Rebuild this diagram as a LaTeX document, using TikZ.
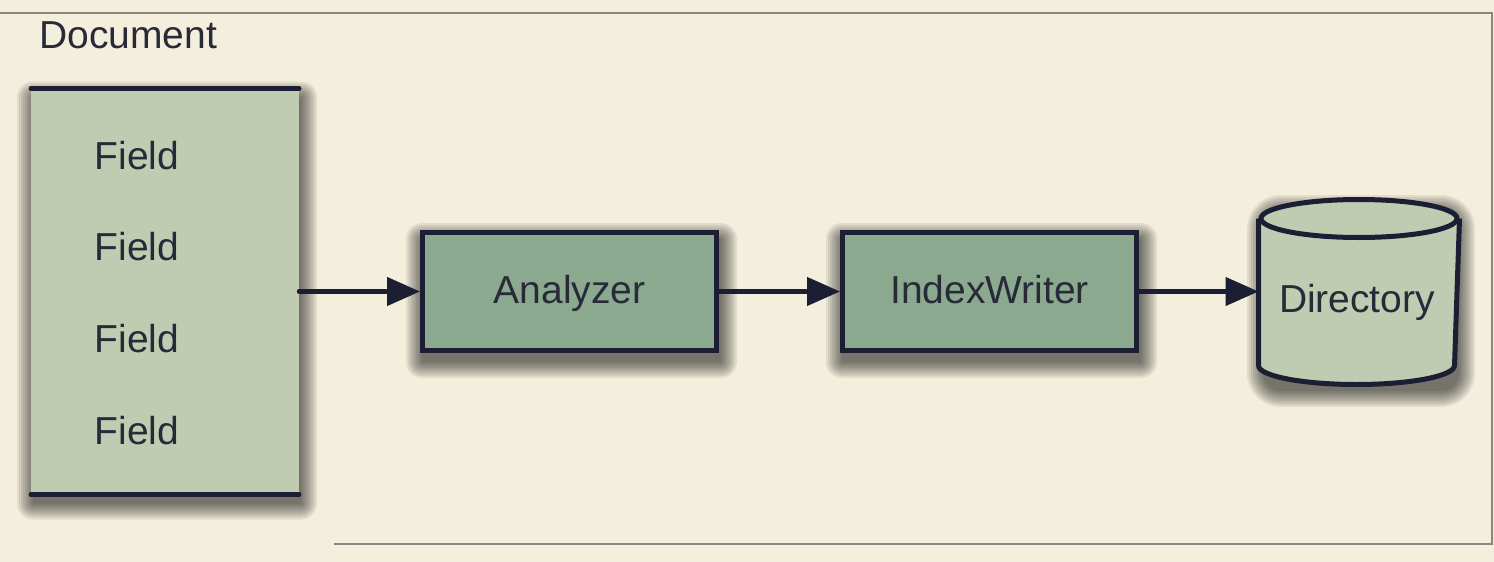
\documentclass[tikz,border=0pt]{standalone}
\usepackage{fontspec}
\setmainfont{Liberation Sans}
\usetikzlibrary{arrows.meta}
\definecolor{bg}{RGB}{244,238,220}
\definecolor{docfill}{RGB}{192,204,178}
\definecolor{boxfill}{RGB}{139,169,142}
\definecolor{ink}{RGB}{28,31,51}
\definecolor{txt}{RGB}{40,42,55}
\definecolor{framegray}{RGB}{135,135,128}
\pgfdeclarelayer{bottomlayer}
\pgfdeclarelayer{shadowlayer}
\pgfsetlayers{bottomlayer,shadowlayer,main}
% soft shadow: #1 = south west name, #2 = north east name, #3 = extra corner rounding
\newcommand\mysoftshadow[3]{%
  \foreach \e in {0,2,...,16}{%
    \fill[black, opacity=0.075, rounded corners=\e pt+#3]
      ([shift={(2pt-\e pt,-9pt-\e pt)}]#1) rectangle ([shift={(2pt+\e pt,-9pt+\e pt)}]#2);
  }}
\begin{document}
\begin{tikzpicture}[x=1pt,y=-1pt,
  lbl/.style={text=txt, font=\fontsize{39}{46}\selectfont, inner sep=0pt},
  procbox/.style={draw=ink, line width=5pt, fill=boxfill, minimum width=294pt, minimum height=118pt,
    inner sep=0pt, text height=28pt, text depth=4pt, text=txt, font=\fontsize{39}{46}\selectfont},
  flow/.style={draw=ink, line width=4.5pt, line cap=round, -{Triangle[length=33pt,width=28pt]}},
  rule/.style={draw=ink, line width=5pt, line cap=round},
  frame/.style={draw=framegray, line width=1.5pt}]
\useasboundingbox (0,0) rectangle (1494,562);
\begin{pgfonlayer}{bottomlayer}
\fill[bg] (0,0) rectangle (1494,562);
\coordinate (f1) at (0,13);
\coordinate (f2) at (1492,13);
\coordinate (f3) at (1492,544);
\coordinate (f4) at (334,544);
\draw[frame] (f1) -- (f2) -- (f3) -- (f4);
\end{pgfonlayer}
% document
\node[lbl, anchor=base west] (doclabel) at (39,48) {Document};
\node[fill=docfill, minimum width=268pt, minimum height=406pt, inner sep=0pt, outer sep=0pt] (doc) at (165,291.5) {};
\draw[rule] (doc.north west) -- (doc.north east);
\draw[rule] (doc.south west) -- (doc.south east);
\node[lbl, anchor=base] (f1t) at (137,169.5) {Field};
\node[lbl, anchor=base] (f2t) at (137,260.5) {Field};
\node[lbl, anchor=base] (f3t) at (137,352.5) {Field};
\node[lbl, anchor=base] (f4t) at (137,444.5) {Field};
% process boxes
\node[procbox] (an) at (569.5,291.5) {Analyzer};
\node[procbox] (iw) at (989.5,291.5) {IndexWriter};
% directory cylinder
\node[minimum width=196pt, minimum height=142pt, inner sep=0pt, outer sep=2.5pt] (dir) at (1359,292) {};
\coordinate (dirsw) at (1261,382);
\coordinate (dirne) at (1457,202);
\path[fill=docfill] (dir.north west) -- (dir.south west) arc (180:360:98pt and 19pt) -- (dir.north east) arc (0:180:98pt and 19pt) -- cycle;
\draw[ink, line width=5pt, line join=round] (dir.north west) -- (dir.south west) arc (180:360:98pt and 19pt) -- (dir.north east);
\draw[ink, line width=5pt] (dir.north) ellipse (98pt and 19pt);
\node[lbl, anchor=base] (dirlabel) at (1357,312) {Directory};
% arrows
\draw[flow] (doc.east |- an.west) -- (an.west);
\draw[flow] (an.east) -- (iw.west);
\draw[flow] (iw.east) -- (iw.east -| dir.west);
% shadows
\begin{pgfonlayer}{shadowlayer}
\mysoftshadow{doc.south west}{doc.north east}{0pt}
\mysoftshadow{an.south west}{an.north east}{0pt}
\mysoftshadow{iw.south west}{iw.north east}{0pt}
\mysoftshadow{dirsw}{dirne}{18pt}
\end{pgfonlayer}
\end{tikzpicture}
\end{document}
